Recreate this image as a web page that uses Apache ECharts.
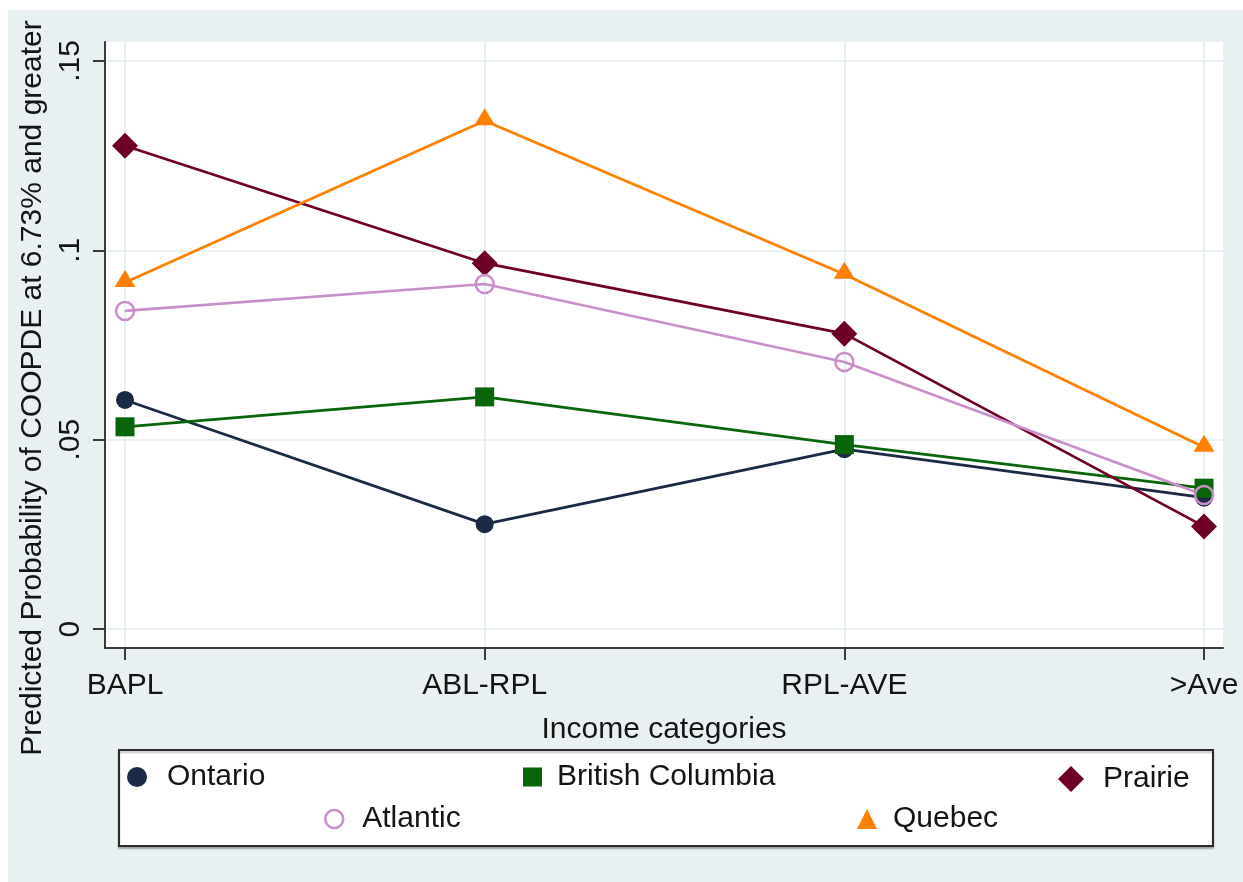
<!DOCTYPE html>
<html>
<head>
<meta charset="utf-8">
<script src="https://cdn.jsdelivr.net/npm/echarts@6/dist/echarts.min.js"></script>
<style>
  html, body { margin: 0; padding: 0; background: #ffffff; }
  #chart { position: absolute; left: 8px; top: 10px; width: 1235px; height: 872px; }
</style>
</head>
<body>
<div id="chart"></div>
<script>
// Predicted probability by income category, one line per region
const categories = ['BAPL', 'ABL-RPL', 'RPL-AVE', '>Ave'];
const ontario = [0.0605, 0.0277, 0.0475, 0.0347];
const britishColumbia = [0.0534, 0.0613, 0.0487, 0.0372];
const prairie = [0.1276, 0.0966, 0.0780, 0.0271];
const atlantic = [0.0840, 0.0911, 0.0705, 0.0354];
const quebec = [0.0915, 0.1342, 0.0937, 0.0480];

const yTickValues = [0, 0.05, 0.1, 0.15];
const yTickLabels = ['0', '.05', '.1', '.15'];
const categoryTicks = categories.map((c, i) => i);

const FONT = '"Liberation Sans", Arial, sans-serif';
const TEXT = '#141414';
const AXIS = '#3a3a3a';
const GRIDLINE = '#e8f0f2';

const pairs = vals => vals.map((v, i) => [i, v]);

function lineSeries(name, vals, color, symbol, size, extra) {
  return Object.assign({
    name: name,
    type: 'line',
    data: pairs(vals),
    symbol: symbol,
    symbolSize: size,
    showAllSymbol: true,
    itemStyle: { color: color },
    lineStyle: { color: color, width: 2.7 },
    emphasis: { disabled: true },
    animation: false
  }, extra || {});
}

function legendAt(name, icon, left, top, size, gap, itemStyle) {
  const item = { name: name, icon: icon };
  if (itemStyle) item.itemStyle = itemStyle;
  return {
    data: [item],
    left: left,
    top: top,
    padding: 0,
    itemWidth: size,
    itemHeight: size,
    selectedMode: false,
    textStyle: {
      fontFamily: FONT, fontSize: 30, color: TEXT, lineHeight: 30,
      padding: [0, 0, 0, gap]
    }
  };
}

const chart = echarts.init(document.getElementById('chart'), null, { renderer: 'canvas' });

chart.setOption({
  backgroundColor: '#e9f0f2',
  animation: false,
  grid: {
    left: 97, right: 20, top: 32, bottom: 234,
    show: true, backgroundColor: '#ffffff', borderWidth: 0,
    outerBoundsMode: 'none'
  },
  xAxis: {
    type: 'value',
    min: -0.0556,
    max: 3.0528,
    name: 'Income categories',
    nameLocation: 'middle',
    nameGap: 67,
    nameTextStyle: { fontFamily: FONT, fontSize: 30, color: TEXT },
    axisLine: { show: true, onZero: false, lineStyle: { color: AXIS, width: 2 } },
    axisTick: { show: true, length: 12, customValues: categoryTicks, lineStyle: { color: AXIS, width: 2 } },
    axisLabel: {
      customValues: categoryTicks,
      margin: 23,
      fontFamily: FONT, fontSize: 30, color: TEXT,
      formatter: v => categories[Math.round(v)]
    },
    splitLine: { show: true, lineStyle: { color: GRIDLINE, width: 2 } }
  },
  yAxis: {
    type: 'value',
    min: -0.005,
    max: 0.155,
    name: 'Predicted Probability of COOPDE at 6.73% and greater',
    nameLocation: 'middle',
    nameGap: 55,
    nameTextStyle: { fontFamily: FONT, fontSize: 30, color: TEXT, padding: [0, 86, 0, 0] },
    axisLine: { show: true, onZero: false, lineStyle: { color: AXIS, width: 2 } },
    axisTick: { show: true, length: 12, customValues: yTickValues, lineStyle: { color: AXIS, width: 2 } },
    axisLabel: {
      customValues: yTickValues,
      rotate: 90,
      margin: 19,
      fontFamily: FONT, fontSize: 30, color: TEXT,
      formatter: v => {
        const k = yTickValues.findIndex(t => Math.abs(t - v) < 1e-9);
        return k >= 0 ? yTickLabels[k] : '';
      }
    },
    splitLine: { show: true, lineStyle: { color: GRIDLINE, width: 2 } }
  },
  graphic: [{
    type: 'rect',
    left: 110, top: 739,
    shape: { width: 1094, height: 96 },
    style: { fill: '#ffffff', stroke: '#2a2a2a', lineWidth: 2,
             shadowColor: 'rgba(0,0,0,0.25)', shadowOffsetY: 2, shadowBlur: 2 },
    z: 0
  }],
  legend: [
    legendAt('Ontario', 'circle', 119, 752, 20, 15),
    legendAt('British Columbia', 'rect', 515, 752, 19, 10),
    legendAt('Prairie', 'diamond', 1050, 754, 26, 14),
    legendAt('Atlantic', 'circle', 316, 794, 18, 14,
             { color: 'rgba(255,255,255,0)', borderColor: '#c98fc9', borderWidth: 2.5 }),
    legendAt('Quebec', 'triangle', 849, 794, 20, 11)
  ],
  series: [
    lineSeries('Ontario', ontario, '#1a2a44', 'circle', 18),
    lineSeries('British Columbia', britishColumbia, '#0a640a', 'rect', 19),
    lineSeries('Prairie', prairie, '#6e0024', 'diamond', 26),
    lineSeries('Atlantic', atlantic, '#c98fc9', 'circle', 18, {
      itemStyle: { color: 'rgba(255,255,255,0)', borderColor: '#c98fc9', borderWidth: 2.5 }
    }),
    lineSeries('Quebec', quebec, '#ff8000', 'triangle', [21, 17], { symbolOffset: [0, -4] })
  ]
});
</script>
</body>
</html>
